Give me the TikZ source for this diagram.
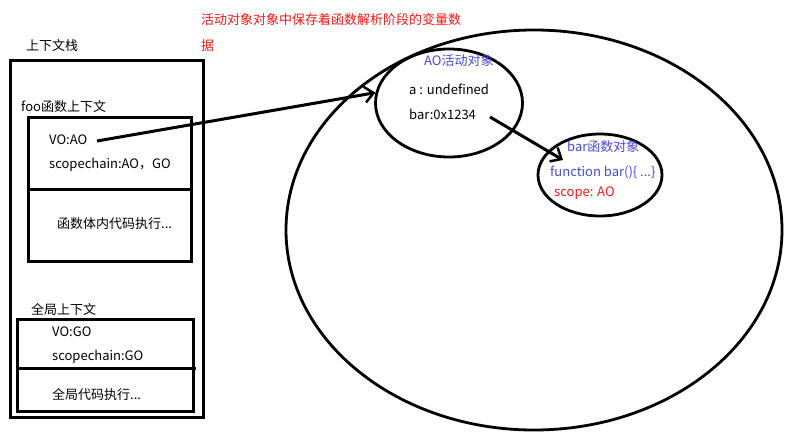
\documentclass[tikz,border=0pt]{standalone}
\usepackage{fontspec}
\setmainfont{Noto Sans CJK SC}
\usetikzlibrary{shapes.geometric,arrows.meta}
\definecolor{blueT}{RGB}{72,72,225}
\definecolor{redT}{RGB}{255,20,20}
\tikzset{
  lbl/.style={anchor=west,inner sep=0pt,font=\fontsize{13pt}{15pt}\selectfont},
  boxline/.style={line width=3pt},
  ell/.style={draw,ellipse,line width=2.8pt,inner sep=0pt},
  arr/.style={line width=3pt,-{Straight Barb[length=9pt,width=16pt,line width=2.5pt]}}
}
\begin{document}
\begin{tikzpicture}[x=1pt,y=-1pt]
\useasboundingbox (0,0) rectangle (791,441);
% stack
\draw[boxline] (10,61) rectangle (203,417);
\draw[boxline] (28,117) rectangle (191,261);
\draw[boxline] (28,189) -- (191,189);
\draw[boxline] (17,319) rectangle (193,411);
\draw[boxline] (17,368) -- (196,368);
% texts left
\node[lbl] (stack) at (26,46) {上下文栈};
\node[lbl,text=redT] (note1) at (201,20) {活动对象对象中保存着函数解析阶段的变量数};
\node[lbl,text=redT] (note2) at (201,46) {据};
\node[lbl] (foo) at (21,107) {foo函数上下文};
\node[lbl] (vo) at (49,140) {VO:AO};
\node[lbl] (sc) at (49,165) {scopechain:AO，GO};
\node[lbl] (body) at (57,224) {函数体内代码执行...};
\node[lbl] (glob) at (31,309) {全局上下文};
\node[lbl] (vog) at (52,332) {VO:GO};
\node[lbl] (scg) at (52,357) {scopechain:GO};
\node[lbl] (gexec) at (52,395) {全局代码执行...};
% ellipses
\node[ell,minimum width=496pt,minimum height=400pt] (big) at (534,230) {};
\node[ell,minimum width=147pt,minimum height=108pt] (ao) at (449,103) {};
\node[ell,minimum width=124pt,minimum height=82pt] (barobj) at (600,175) {};
% ellipse texts
\node[lbl,text=blueT] (aot) at (424,61) {AO活动对象};
\node[lbl] (a) at (409,89) {a : undefined};
\node[lbl] (bar) at (409,114) {bar:0x1234};
\node[lbl,text=blueT] (bart) at (567,147) {bar函数对象};
\node[lbl,text=blueT] (fn) at (550,172) {function bar()\{ ...\}};
\node[lbl,text=redT] (scope) at (554,193) {scope: AO};
% arrows
\coordinate (s1) at (97,141);
\coordinate (e1) at (ao.172);
\draw[arr] (s1) -- (e1);
\coordinate (s2) at (490,117);
\coordinate (e2) at (563,160);
\draw[arr] (s2) -- (e2);
\end{tikzpicture}
\end{document}
